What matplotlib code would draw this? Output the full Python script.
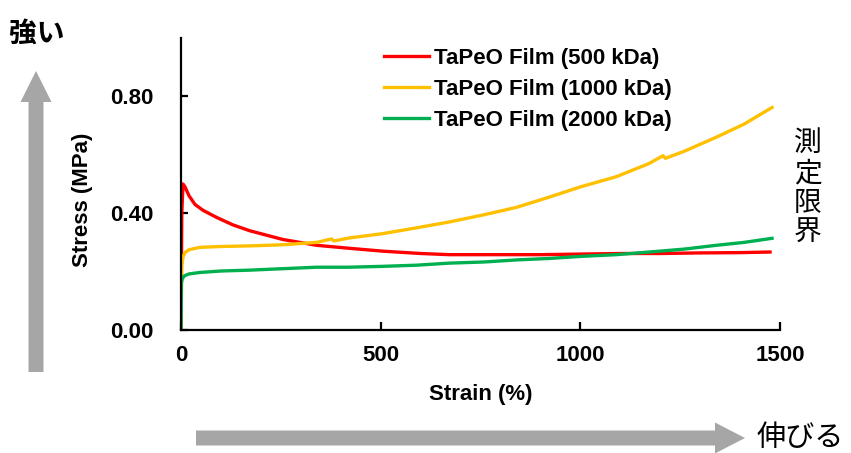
import matplotlib
matplotlib.use("Agg")
import matplotlib.pyplot as plt
from matplotlib.patches import FancyArrow

plt.rcParams['font.family'] = ['Liberation Sans', 'Noto Sans CJK JP', 'DejaVu Sans']

# 500 kDa
x_500 = [0, 2, 5, 10, 20, 35, 55, 90, 130, 172, 255, 340, 420, 505, 600, 672, 800, 900, 1000, 1100, 1200, 1300, 1400, 1475]
y_500 = [0, 0.40, 0.50, 0.49, 0.46, 0.43, 0.41, 0.385, 0.36, 0.34, 0.31, 0.29, 0.28, 0.27, 0.262, 0.258, 0.258, 0.258, 0.26, 0.262, 0.262, 0.264, 0.265, 0.267]

# 1000 kDa
x_1000 = [0, 2, 5, 10, 20, 47, 100, 172, 255, 340, 377, 383, 420, 505, 590, 672, 760, 840, 922, 1000, 1090, 1172, 1207, 1213, 1260, 1340, 1410, 1480]
y_1000 = [0, 0.22, 0.25, 0.265, 0.275, 0.283, 0.286, 0.288, 0.292, 0.30, 0.312, 0.305, 0.315, 0.33, 0.35, 0.37, 0.395, 0.42, 0.455, 0.49, 0.525, 0.57, 0.597, 0.588, 0.612, 0.66, 0.705, 0.762]

# 2000 kDa
x_2000 = [0, 1, 3, 8, 20, 47, 100, 172, 255, 340, 420, 505, 590, 672, 760, 840, 922, 1000, 1090, 1172, 1260, 1340, 1410, 1480]
y_2000 = [0, 0.16, 0.175, 0.185, 0.192, 0.197, 0.202, 0.205, 0.21, 0.215, 0.215, 0.218, 0.222, 0.229, 0.233, 0.24, 0.245, 0.252, 0.258, 0.267, 0.277, 0.29, 0.30, 0.314]

labels = ["TaPeO Film (500 kDa)", "TaPeO Film (1000 kDa)", "TaPeO Film (2000 kDa)"]
colors = ["#FF0000", "#FFC000", "#00B050"]

W, H = 851, 453
fig = plt.figure(figsize=(W / 100, H / 100), dpi=100)

# overlay for arrows / Japanese annotations (pixel coords)
ov = fig.add_axes([0, 0, 1, 1])
ov.set_xlim(0, W)
ov.set_ylim(H, 0)
ov.axis("off")
ov.add_patch(FancyArrow(36, 372, 0, -301, width=15, head_width=31, head_length=31,
                        length_includes_head=True, color="#A6A6A6", lw=0))
ov.add_patch(FancyArrow(196, 438, 549, 0, width=15, head_width=31, head_length=30,
                        length_includes_head=True, color="#A6A6A6", lw=0))
jp = ['Noto Sans CJK JP', 'DejaVu Sans']
ov.text(9, 34, "強い", family=jp, fontsize=20, fontweight="bold", va="center", ha="left")
ov.text(757, 438, "伸びる", family=jp, fontsize=21, va="center", ha="left")
ov.text(808, 188, "\n".join("測定限界"), family=jp, fontsize=20, va="center", ha="center",
        linespacing=1.0)

ax = fig.add_axes([181 / W, 1 - 330 / H, (780 - 181) / W, (330 - 38) / H])
ax.patch.set_alpha(0)
ax.plot(x_500, y_500, color=colors[0], lw=2.4, label=labels[0])
ax.plot(x_1000, y_1000, color=colors[1], lw=2.4, label=labels[1])
ax.plot(x_2000, y_2000, color=colors[2], lw=2.4, label=labels[2])

ax.set_xlim(0, 1500)
ax.set_ylim(0, 1.0)
ax.set_xticks([0, 500, 1000, 1500])
ax.set_yticks([0, 0.4, 0.8])
ax.set_yticklabels(["0.00", "0.40", "0.80"])
for s in ["top", "right"]:
    ax.spines[s].set_visible(False)
for s in ["left", "bottom"]:
    ax.spines[s].set_linewidth(1.6)
ax.tick_params(axis="x", direction="in", length=6, width=1.6, pad=11, labelsize=16)
ax.tick_params(axis="y", direction="in", length=5, width=1.6, pad=20, labelsize=16)
for t in ax.get_xticklabels() + ax.get_yticklabels():
    t.set_fontweight("bold")
ax.set_xlabel("Strain (%)", fontsize=16, fontweight="bold", labelpad=13)
ax.set_ylabel("Stress (MPa)", fontsize=16, fontweight="bold", labelpad=12)
ax.yaxis.label.set_y(0.445)

ax.legend(loc="upper left", bbox_to_anchor=(373 / W, 1 - 37 / H), bbox_transform=fig.transFigure,
          frameon=False, prop={"size": 16, "weight": "bold"}, handlelength=2.0,
          handletextpad=0.25, labelspacing=0.45, borderpad=0)

fig.savefig("out.png", dpi=100)
